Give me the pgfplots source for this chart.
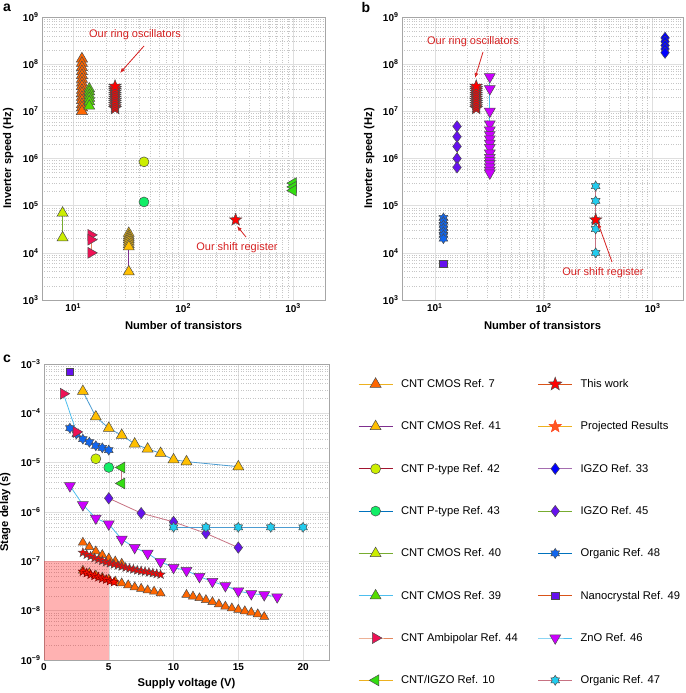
\documentclass[border=0pt]{standalone}
\usepackage{pgfplots}
\pgfplotsset{compat=1.18}
\usepackage{fontspec}
\setmainfont{Liberation Sans}
\usetikzlibrary{arrows.meta}

% line colours
\definecolor{mBlue}{HTML}{0072BD}
\definecolor{mOrange}{HTML}{D95319}
\definecolor{mYellow}{HTML}{EDB120}
\definecolor{mPurple}{HTML}{7E2F8E}
\definecolor{mGreen}{HTML}{77AC30}
\definecolor{mLBlue}{HTML}{4DBEEE}
\definecolor{mRed}{HTML}{A2142F}
% marker fills
\definecolor{fR7}{HTML}{FF6600}
\definecolor{fR41}{HTML}{FFBF00}
\definecolor{fR42}{HTML}{CCEE00}
\definecolor{fR43}{HTML}{11EE66}
\definecolor{fR40}{HTML}{CCEE00}
\definecolor{fR39}{HTML}{55DD00}
\definecolor{fR44}{HTML}{EE1155}
\definecolor{fR10}{HTML}{33DD11}
\definecolor{fProj}{HTML}{FF5522}
\definecolor{fIG33}{HTML}{0000FF}
\definecolor{fIG45}{HTML}{6611EE}
\definecolor{fOr48}{HTML}{1166EE}
\definecolor{fNC}{HTML}{6611EE}
\definecolor{fZnO}{HTML}{CC00FF}
\definecolor{fOr47}{HTML}{22CCEE}
\definecolor{annot}{rgb}{0.84,0.13,0.13}

% filled five- and six-pointed stars
\pgfdeclareplotmark{fstar}{%
  \pgfpathmoveto{\pgfqpointpolar{90}{\pgfplotmarksize}}%
  \pgfpathlineto{\pgfqpointpolar{126}{0.42\pgfplotmarksize}}%
  \pgfpathlineto{\pgfqpointpolar{162}{\pgfplotmarksize}}%
  \pgfpathlineto{\pgfqpointpolar{198}{0.42\pgfplotmarksize}}%
  \pgfpathlineto{\pgfqpointpolar{234}{\pgfplotmarksize}}%
  \pgfpathlineto{\pgfqpointpolar{270}{0.42\pgfplotmarksize}}%
  \pgfpathlineto{\pgfqpointpolar{306}{\pgfplotmarksize}}%
  \pgfpathlineto{\pgfqpointpolar{342}{0.42\pgfplotmarksize}}%
  \pgfpathlineto{\pgfqpointpolar{18}{\pgfplotmarksize}}%
  \pgfpathlineto{\pgfqpointpolar{54}{0.42\pgfplotmarksize}}%
  \pgfpathclose\pgfusepathqfillstroke}
\pgfdeclareplotmark{hstar}{%
  \pgfpathmoveto{\pgfqpointpolar{90}{\pgfplotmarksize}}%
  \pgfpathlineto{\pgfqpointpolar{120}{0.6\pgfplotmarksize}}%
  \pgfpathlineto{\pgfqpointpolar{150}{\pgfplotmarksize}}%
  \pgfpathlineto{\pgfqpointpolar{180}{0.6\pgfplotmarksize}}%
  \pgfpathlineto{\pgfqpointpolar{210}{\pgfplotmarksize}}%
  \pgfpathlineto{\pgfqpointpolar{240}{0.6\pgfplotmarksize}}%
  \pgfpathlineto{\pgfqpointpolar{270}{\pgfplotmarksize}}%
  \pgfpathlineto{\pgfqpointpolar{300}{0.6\pgfplotmarksize}}%
  \pgfpathlineto{\pgfqpointpolar{330}{\pgfplotmarksize}}%
  \pgfpathlineto{\pgfqpointpolar{0}{0.6\pgfplotmarksize}}%
  \pgfpathlineto{\pgfqpointpolar{30}{\pgfplotmarksize}}%
  \pgfpathlineto{\pgfqpointpolar{60}{0.6\pgfplotmarksize}}%
  \pgfpathclose\pgfusepathqfillstroke}

\newcommand{\tl}[1]{\textbf{10\textsuperscript{#1}}}
\newcommand{\lblfont}{\fontsize{11.2}{13}\selectfont\bfseries}
\newcommand{\tickfont}{\fontsize{10}{12}\selectfont\bfseries}

\pgfplotsset{
  pnl/.style={
    scale only axis, anchor=south west,
    axis line style={draw=gray!70, line width=0.5pt},
    grid=both,
    major grid style={draw=gray!25, line width=0.5pt},
    minor grid style={draw=gray!45, dotted, line width=0.4pt},
    major tick length=0pt, minor tick length=0pt,
    xticklabel style={font=\tickfont},
    yticklabel style={font=\tickfont},
  },
  mk/.style 2 args={mark options={solid, fill=#1, draw=black!70, line width=0.5pt, rotate=#2}},
  sR7/.style={mYellow, line width=0.8pt, mark=triangle*, mark size=6.5pt, mk={fR7}{0}},
  sR41/.style={mPurple, line width=0.8pt, mark=triangle*, mark size=6.3pt, mk={fR41}{0}},
  sR42/.style={mRed, line width=0.8pt, mark=*, mark size=5pt, mk={fR42}{0}},
  sR43/.style={mBlue, line width=0.8pt, mark=*, mark size=5pt, mk={fR43}{0}},
  sR40/.style={mGreen, line width=0.8pt, mark=triangle*, mark size=6.3pt, mk={fR40}{0}},
  sR39/.style={mLBlue, line width=0.8pt, mark=triangle*, mark size=6.3pt, mk={fR39}{0}},
  sR44/.style={mOrange!70, line width=0.8pt, mark=triangle*, mark size=6.3pt, mk={fR44}{-90}},
  sR10/.style={mYellow, line width=0.8pt, mark=triangle*, mark size=6.3pt, mk={fR10}{90}},
  sThis/.style={mOrange, line width=0.8pt, mark=fstar, mark size=6.5pt, mk={red}{0}},
  sProj/.style={mYellow, line width=0.8pt, mark=fstar, mark size=6.5pt,
    mark options={solid, fill=fProj, draw=fProj!80!red, line width=0.5pt}},
  sIG33/.style={mPurple!70, line width=0.8pt, mark=diamond*, mark size=5.7pt, mk={fIG33}{0}},
  sIG45/.style={mGreen, line width=0.8pt, mark=diamond*, mark size=5.7pt, mk={fIG45}{0}},
  sOr48/.style={mBlue, line width=0.8pt, mark=hstar, mark size=5pt, mk={fOr48}{0}},
  sNC/.style={mOrange, line width=0.8pt, mark=square*, mark size=3.7pt, mk={fNC}{0}},
  sZnO/.style={mLBlue, line width=0.8pt, mark=triangle*, mark size=6.3pt, mk={fZnO}{180}},
  sOr47/.style={mRed!60, line width=0.8pt, mark=hstar, mark size=5pt, mk={fOr47}{0}},
}

\begin{document}
\begin{tikzpicture}
\useasboundingbox (0pt,0pt) rectangle (685pt,-693pt);

% ---------------- panel a
\begin{axis}[pnl, xmode=log, ymode=log, at={(42pt,-300pt)}, width=283pt, height=283pt,
  xmin=5.2, xmax=1950, ymin=1e3, ymax=1e9,
  xtick={10,100,1000}, xticklabels={\tl{1},\tl{2},\tl{3}},
  ytick={1e3,1e4,1e5,1e6,1e7,1e8,1e9},
  yticklabels={\tl{3},\tl{4},\tl{5},\tl{6},\tl{7},\tl{8},\tl{9}},
  xlabel style={at={([yshift=-18pt]axis description cs:0.5,0)}, anchor=north, font=\lblfont},
  ylabel style={at={([xshift=-25pt]axis description cs:0,0.5)}, anchor=south, font=\lblfont},
  xlabel={Number of transistors}, ylabel={Inverter speed (Hz)}]
\addplot[sR7] coordinates {(12,1.3e8)(12,1.05e8)(12,8.5e7)(12,7e7)(12,5.8e7)(12,4.8e7)(12,4e7)(12,3.4e7)(12,2.8e7)(12,2.4e7)(12,2e7)(12,1.7e7)(12,1.4e7)(12,1.2e7)(12,1e7)};
\addplot[sR41] coordinates {(32,2.6e4)(32,2.3e4)(32,2.1e4)(32,1.9e4)(32,1.7e4)(32,1.5e4)(32,1.35e4)(32,4e3)};
\addplot[sR42] coordinates {(44,8.5e5)};
\addplot[sR43] coordinates {(44,1.2e5)};
\addplot[sR40] coordinates {(8,7e4)(8,2.1e4)};
\addplot[sR39] coordinates {(14,3e7)(14,2.6e7)(14,2.2e7)(14,1.9e7)(14,1.6e7)(14,1.3e7)};
\addplot[sR44] coordinates {(14.5,2.4e4)(14.5,1.9e4)(14.5,1e4)};
\addplot[sR10] coordinates {(1000,3e5)(1000,2.5e5)(1000,2.1e5)};
\addplot[sThis] coordinates {(24,1.15e7)(24,1.25e7)(24,1.4e7)(24,1.55e7)(24,1.7e7)(24,1.9e7)(24,2.1e7)(24,2.3e7)(24,2.55e7)(24,2.8e7)(24,3.05e7)(24,3.4e7)};
\addplot[sThis, only marks] coordinates {(300,5e4)};
\end{axis}

% ---------------- panel b
\begin{axis}[pnl, xmode=log, ymode=log, at={(402pt,-300pt)}, width=281pt, height=283pt,
  xmin=5, xmax=1900, ymin=1e3, ymax=1e9,
  xtick={10,100,1000}, xticklabels={\tl{1},\tl{2},\tl{3}},
  ytick={1e3,1e4,1e5,1e6,1e7,1e8,1e9},
  yticklabels={\tl{3},\tl{4},\tl{5},\tl{6},\tl{7},\tl{8},\tl{9}},
  xlabel style={at={([yshift=-18pt]axis description cs:0.5,0)}, anchor=north, font=\lblfont},
  ylabel style={at={([xshift=-24pt]axis description cs:0,0.5)}, anchor=south, font=\lblfont},
  xlabel={Number of transistors}, ylabel={Inverter speed (Hz)}]
\addplot[sIG33] coordinates {(1300,3.6e8)(1300,3e8)(1300,2.5e8)(1300,2.1e8)(1300,1.75e8)};
\addplot[sIG45] coordinates {(16,4.8e6)(16,2.9e6)(16,1.8e6)(16,1e6)(16,6.5e5)};
\addplot[sOr48] coordinates {(12,5.5e4)(12,4.6e4)(12,3.9e4)(12,3.3e4)(12,2.8e4)(12,2.4e4)(12,2e4)};
\addplot[sNC] coordinates {(12,5.8e3)};
\addplot[sZnO] coordinates {(32,5.4e7)(32,3e7)(32,1e7)(32,5.4e6)(32,4e6)(32,3.2e6)(32,2.6e6)(32,2.1e6)(32,1.7e6)(32,1.3e6)(32,1.05e6)(32,9e5)(32,7.8e5)(32,6.6e5)(32,5.6e5)(32,4.9e5)};
\addplot[sOr47] coordinates {(300,2.6e5)(300,1.26e5)(300,4.8e4)(300,3.2e4)(300,1e4)};
\addplot[sThis] coordinates {(24,1.15e7)(24,1.25e7)(24,1.4e7)(24,1.55e7)(24,1.7e7)(24,1.9e7)(24,2.1e7)(24,2.3e7)(24,2.55e7)(24,2.8e7)(24,3.05e7)(24,3.4e7)};
\addplot[sThis, only marks] coordinates {(300,5e4)};
\end{axis}

% ---------------- panel c
\begin{axis}[pnl, ymode=log, at={(44pt,-660pt)}, width=285pt, height=296pt,
  xmin=0, xmax=22, ymin=1e-9, ymax=1e-3, xminorgrids=false,
  xtick={0,5,10,15,20}, xticklabels={\textbf{0},\textbf{5},\textbf{10},\textbf{15},\textbf{20}},
  ytick={1e-9,1e-8,1e-7,1e-6,1e-5,1e-4,1e-3},
  yticklabels={\tl{−9},\tl{−8},\tl{−7},\tl{−6},\tl{−5},\tl{−4},\tl{−3}},
  xlabel style={at={([yshift=-15pt]axis description cs:0.5,0)}, anchor=north, font=\lblfont},
  ylabel style={at={([xshift=-30pt]axis description cs:0,0.5)}, anchor=south, font=\lblfont},
  xlabel={Supply voltage (V)}, ylabel={Stage delay (s)}]
\addplot[draw=none, fill=red, fill opacity=0.3] coordinates {(0,1e-9)(5,1e-9)(5,1e-7)(0,1e-7)} -- cycle;
\addplot[sNC] coordinates {(2,7e-4)};
\addplot[sOr48, color=mLBlue] coordinates {(2,5e-5)(2.5,3.8e-5)(3,3e-5)(3.5,2.6e-5)(4,2.2e-5)(4.5,2e-5)(5,1.8e-5)};
\addplot[sR44, color=mLBlue] coordinates {(1.5,2.5e-4)(2.5,4.2e-5)};
\addplot[sR41, color=mBlue!70] coordinates {(3,2.8e-4)(4,8.5e-5)(5,5e-5)(6,3.6e-5)(7,2.4e-5)(8,1.9e-5)(9,1.55e-5)(10,1.15e-5)(11,1.05e-5)(15,8.3e-6)};
\addplot[sR42] coordinates {(4,1.2e-5)};
\addplot[sR43] coordinates {(5,8e-6)};
\addplot[sR10, color=mRed!60] coordinates {(6,8e-6)(6,3.8e-6)};
\addplot[sZnO] coordinates {(2,3.4e-6)(3,1.4e-6)(4,7.5e-7)(5,5.7e-7)(6,2.8e-7)(7,1.9e-7)(8,1.45e-7)(9,9.8e-8)(10,7.5e-8)(11,6.5e-8)(12,4.9e-8)(13,3.9e-8)(14,3.2e-8)(15,2.5e-8)(16,2.2e-8)(17,2.1e-8)(18,1.9e-8)};
\addplot[sIG45, color=mRed!60] coordinates {(5,1.9e-6)(7.5,9.5e-7)(10,6.3e-7)(12.5,3.7e-7)(15,1.9e-7)};
\addplot[sOr47, color=mBlue!70] coordinates {(10,4.9e-7)(12.5,4.9e-7)(15,4.9e-7)(17.5,4.9e-7)(20,4.9e-7)};
\addplot[sR7, mark size=5.3pt] coordinates {(3,2.4e-7)(3.5,1.95e-7)(4,1.6e-7)(4.5,1.35e-7)(5,1.15e-7)(5.5,1.0e-7)(6,9e-8)};
\addplot[sR7, mark size=5.3pt] coordinates {(3,6.5e-8)(3.5,5.8e-8)(4,5.2e-8)(4.5,4.7e-8)(5,4.3e-8)(5.5,3.9e-8)(6,3.6e-8)(6.5,3.3e-8)(7,3.0e-8)(7.5,2.8e-8)(8,2.6e-8)(8.5,2.45e-8)(9,2.25e-8)};
\addplot[sR7, mark size=5.3pt] coordinates {(11,2.1e-8)(11.5,1.95e-8)(12,1.8e-8)(12.5,1.65e-8)(13,1.5e-8)(13.5,1.35e-8)(14,1.22e-8)(14.5,1.12e-8)(15,1.05e-8)(15.5,9.8e-9)(16,9.2e-9)(16.5,8.5e-9)(17,7.5e-9)};
\addplot[sThis, mark size=4.8pt] coordinates {(3,1.5e-7)(3.3,1.37e-7)(3.6,1.27e-7)(3.9,1.17e-7)(4.2,1.1e-7)(4.5,1.03e-7)(4.8,9.7e-8)(5.1,9.2e-8)(5.4,8.7e-8)(5.7,8.3e-8)(6,7.9e-8)(6.3,7.5e-8)(6.6,7.2e-8)(6.9,6.9e-8)(7.2,6.6e-8)(7.5,6.4e-8)(7.8,6.2e-8)(8.1,6.0e-8)(8.4,5.8e-8)(8.7,5.6e-8)(9,5.4e-8)};
\addplot[sThis, mark size=4.8pt, mark options={solid, fill=red!90!orange, draw=red!50!black, line width=0.5pt}] coordinates {(3,6.2e-8)(3.3,5.8e-8)(3.6,5.4e-8)(3.9,5.1e-8)(4.2,4.8e-8)(4.5,4.5e-8)(4.8,4.3e-8)(5.1,4.0e-8)(5.4,3.8e-8)};
\end{axis}

% ---------------- legend
\begin{axis}[at={(330pt,-693pt)}, anchor=south west, scale only axis,
  width=355pt, height=328pt, hide axis, xmin=0, xmax=1, ymin=0, ymax=1,
  legend columns=2, legend cell align=left,
  legend image code/.code={\path[draw=none, fill=none] (0pt,-7pt) rectangle (34pt,7pt);
    \draw[mark repeat=2, mark phase=2, #1] plot coordinates {(0pt,0pt) (17pt,0pt) (34pt,0pt)};},
  legend style={at={(0,1)}, anchor=north west, xshift=28pt, yshift=-12pt,
    draw=none, fill=none, inner sep=0pt, row sep=28.3pt,
    font=\fontsize{11.2}{13}\selectfont,
    nodes={inner sep=2pt, text depth=0.15em},
    /tikz/every odd column/.append style={column sep=6pt},
    /tikz/every even column/.append style={column sep=18pt}}]
\addlegendimage{sR7}\addlegendentry{CNT CMOS Ref. 7}
\addlegendimage{sThis, mark size=7pt}\addlegendentry{This work}
\addlegendimage{sR41}\addlegendentry{CNT CMOS Ref. 41}
\addlegendimage{sProj}\addlegendentry{Projected Results}
\addlegendimage{sR42}\addlegendentry{CNT P-type Ref. 42}
\addlegendimage{sIG33}\addlegendentry{IGZO Ref. 33}
\addlegendimage{sR43}\addlegendentry{CNT P-type Ref. 43}
\addlegendimage{sIG45}\addlegendentry{IGZO Ref. 45}
\addlegendimage{sR40}\addlegendentry{CNT CMOS Ref. 40}
\addlegendimage{sOr48}\addlegendentry{Organic Ref. 48}
\addlegendimage{sR39}\addlegendentry{CNT CMOS Ref. 39}
\addlegendimage{sNC}\addlegendentry{Nanocrystal Ref. 49}
\addlegendimage{sR44}\addlegendentry{CNT Ambipolar Ref. 44}
\addlegendimage{sZnO}\addlegendentry{ZnO Ref. 46}
\addlegendimage{sR10}\addlegendentry{CNT/IGZO Ref. 10}
\addlegendimage{sOr47}\addlegendentry{Organic Ref. 47}
\end{axis}

% ---------------- annotations and panel letters
\begin{scope}[annot, font=\fontsize{11}{13}\selectfont]
\node at (135pt,-35pt) {Our ring oscillators};
\draw[line width=0.8pt, -{Latex[length=5pt,width=4pt]}] (144pt,-46pt) -- (120pt,-73pt);
\node at (237pt,-248pt) {Our shift register};
\draw[line width=0.8pt, -{Latex[length=5pt,width=4pt]}] (246pt,-237pt) -- (237pt,-226pt);
\node at (473pt,-42pt) {Our ring oscillators};
\draw[line width=0.8pt, -{Latex[length=5pt,width=4pt]}] (483pt,-52pt) -- (475pt,-78pt);
\node at (603pt,-273pt) {Our shift register};
\draw[line width=0.8pt, -{Latex[length=5pt,width=4pt]}] (612pt,-262pt) -- (598pt,-223pt);
\end{scope}
\begin{scope}[font=\fontsize{14}{16}\selectfont\bfseries]
\node at (7pt,-8pt) {a};
\node at (366pt,-7pt) {b};
\node at (7pt,-359pt) {c};
\end{scope}
\end{tikzpicture}
\end{document}
